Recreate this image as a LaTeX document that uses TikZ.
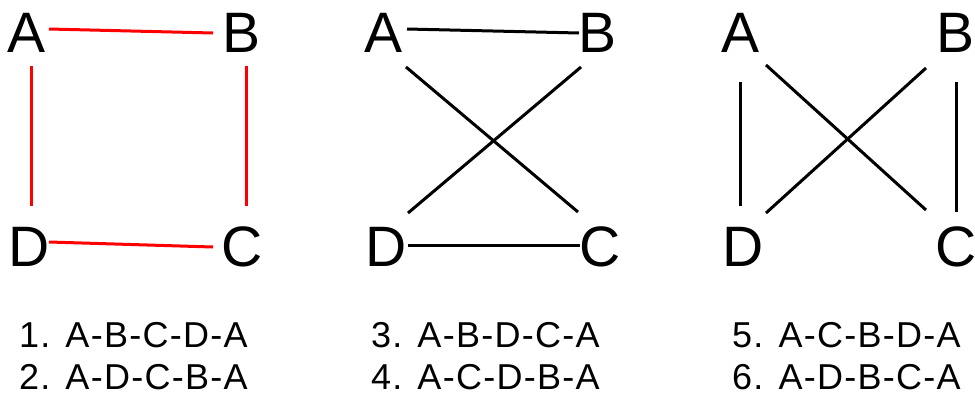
\documentclass[tikz,border=0pt]{standalone}
\usepackage{fontspec}
\setmainfont{Liberation Sans}
\newfontfamily\capfont[LetterSpace=3.5]{Liberation Sans}
\begin{document}
\begin{tikzpicture}[x=1pt,y=-1pt,
  vtx/.style={inner sep=0pt,outer sep=0pt,font=\fontsize{57}{57}\selectfont},
  captxt/.style={inner sep=0pt,anchor=west,font=\capfont\fontsize{36}{36}\selectfont},
  redge/.style={draw=red,line width=3pt},
  bedge/.style={draw=black,line width=3pt}]
\useasboundingbox (0,0) rectangle (975,394);
% panel 1
\node[vtx] (A1) at (27,33) {A};
\node[vtx] (B1) at (242,33) {B};
\node[vtx] (D1) at (29,247) {D};
\node[vtx] (C1) at (242,247) {C};
\draw[redge] ([shift={(22,-4)}]A1.center) -- ([shift={(-29,0)}]B1.center);
\draw[redge] ([shift={(4,33)}]A1.center) -- ([shift={(2,-41)}]D1.center);
\draw[redge] ([shift={(4,33)}]B1.center) -- ([shift={(4,-41)}]C1.center);
\draw[redge] ([shift={(20,-5)}]D1.center) -- ([shift={(-29,0)}]C1.center);
% panel 2
\node[vtx] (A2) at (384,33) {A};
\node[vtx] (B2) at (598,33) {B};
\node[vtx] (D2) at (386,247) {D};
\node[vtx] (C2) at (600,247) {C};
\draw[bedge] ([shift={(23,-4)}]A2.center) -- ([shift={(-19,0)}]B2.center);
\draw[bedge] ([shift={(22,34)}]A2.center) -- ([shift={(-22,-35)}]C2.center);
\draw[bedge] ([shift={(-17,34)}]B2.center) -- ([shift={(22,-34)}]D2.center);
\draw[bedge] ([shift={(22,-2)}]D2.center) -- ([shift={(-20,-2)}]C2.center);
% panel 3
\node[vtx] (A3) at (741,33) {A};
\node[vtx] (B3) at (955,33) {B};
\node[vtx] (D3) at (743,247) {D};
\node[vtx] (C3) at (956,247) {C};
\draw[bedge] ([shift={(-1,49)}]A3.center) -- ([shift={(-3,-41)}]D3.center);
\draw[bedge] ([shift={(1,49)}]B3.center) -- ([shift={(0,-35)}]C3.center);
\draw[bedge] ([shift={(25,32)}]A3.center) -- ([shift={(-30,-37)}]C3.center);
\draw[bedge] ([shift={(-29,35)}]B3.center) -- ([shift={(23,-34)}]D3.center);
% captions
\node[captxt] (t1) at (19,335) {1. A-B-C-D-A};
\node[captxt] (t2) at (19,377.5) {2. A-D-C-B-A};
\node[captxt] (t3) at (371,335) {3. A-B-D-C-A};
\node[captxt] (t4) at (371,377.5) {4. A-C-D-B-A};
\node[captxt] (t5) at (732,335) {5. A-C-B-D-A};
\node[captxt] (t6) at (732,377.5) {6. A-D-B-C-A};
\end{tikzpicture}
\end{document}
